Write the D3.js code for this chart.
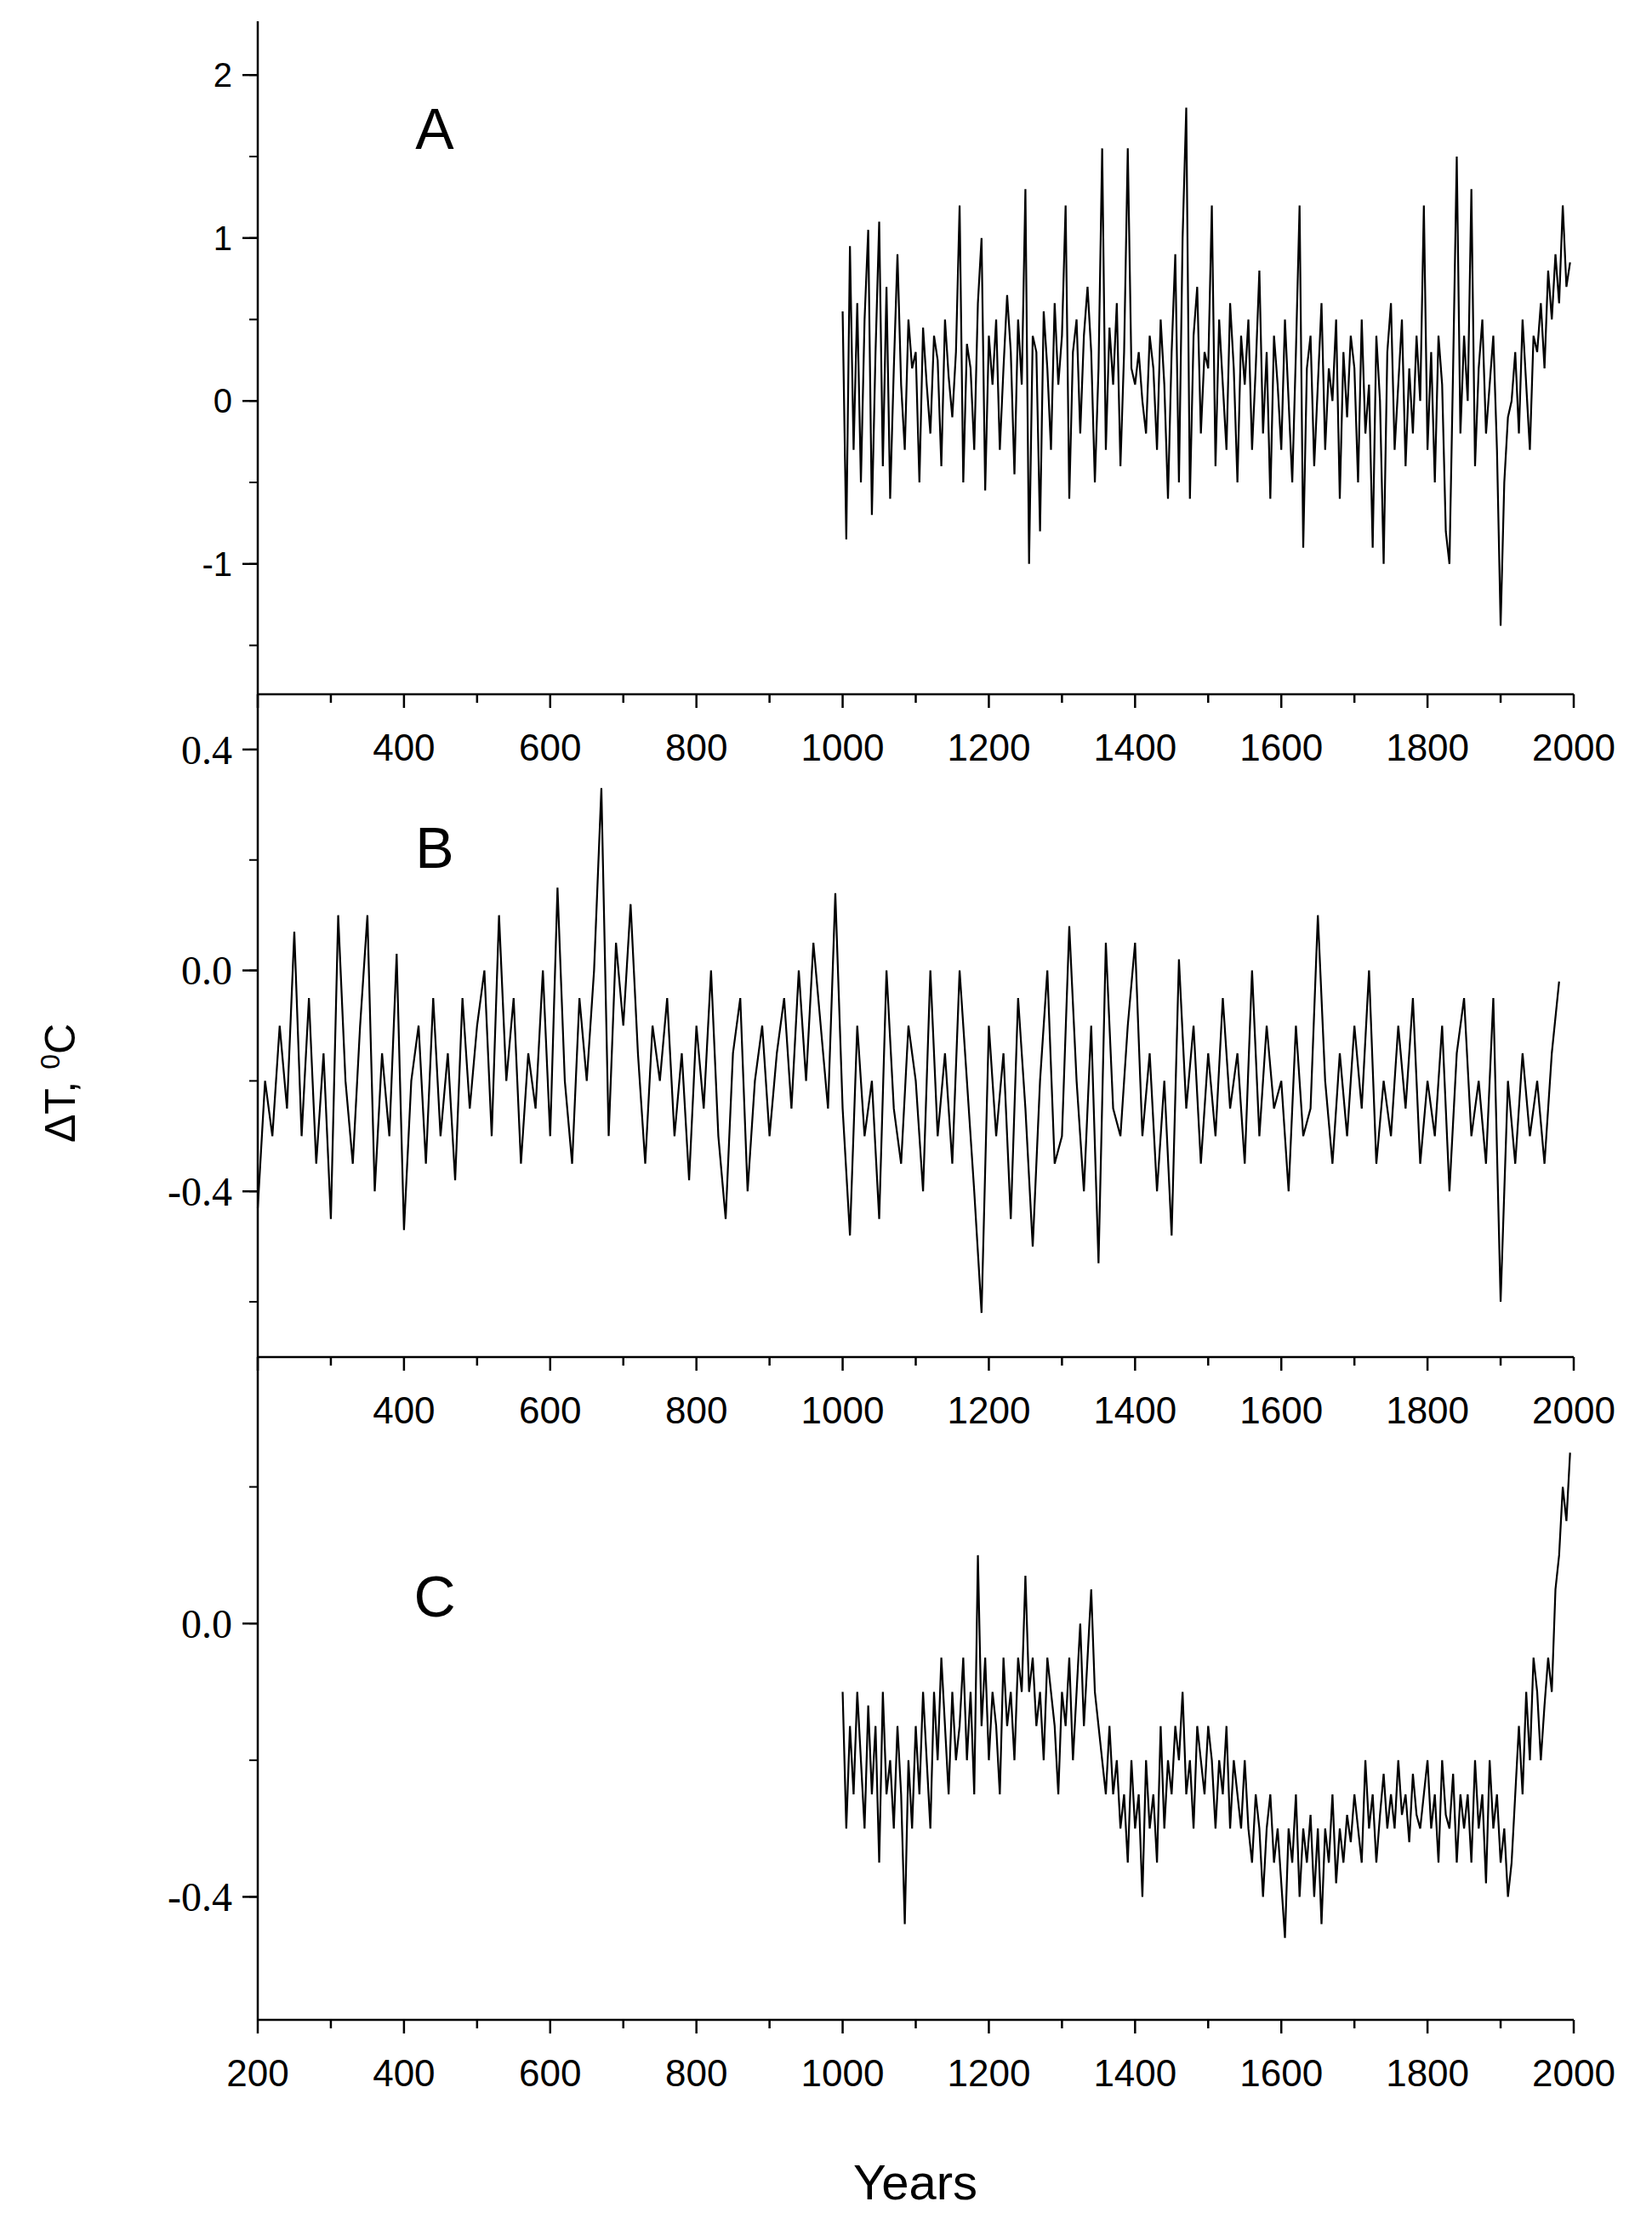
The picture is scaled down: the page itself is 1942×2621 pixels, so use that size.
<!DOCTYPE html>
<html><head><meta charset="utf-8">
<script src="https://cdn.jsdelivr.net/npm/d3@7"></script>
<style>body{margin:0;background:#fff}</style></head>
<body><svg id="c" width="1942" height="2621"></svg>
<script>
const yearsA = d3.range(1000, 2000, 5);
const valuesA = [0.55,-0.85,0.95,-0.3,0.6,-0.5,0.5,1.05,-0.7,0.3,
1.1,-0.4,0.7,-0.6,0.2,0.9,0.1,-0.3,0.5,0.2,
0.3,-0.5,0.45,0.1,-0.2,0.4,0.25,-0.4,0.5,0.15,
-0.1,0.3,1.2,-0.5,0.35,0.2,-0.3,0.6,1.0,-0.55,
0.4,0.1,0.5,-0.3,0.2,0.65,0.3,-0.45,0.5,0.1,
1.3,-1.0,0.4,0.3,-0.8,0.55,0.2,-0.3,0.6,0.1,
0.4,1.2,-0.6,0.3,0.5,-0.2,0.4,0.7,0.3,-0.5,
0.2,1.55,-0.3,0.45,0.1,0.6,-0.4,0.3,1.55,0.2,
0.1,0.3,0.0,-0.2,0.4,0.2,-0.3,0.5,0.1,-0.6,
0.3,0.9,-0.5,1.0,1.8,-0.6,0.4,0.7,-0.2,0.3,
0.2,1.2,-0.4,0.5,0.1,-0.3,0.6,0.2,-0.5,0.4,
0.1,0.5,-0.3,0.2,0.8,-0.2,0.3,-0.6,0.4,0.1,
-0.3,0.5,0.0,-0.5,0.3,1.2,-0.9,0.2,0.4,-0.4,
0.1,0.6,-0.3,0.2,0.0,0.5,-0.6,0.3,-0.1,0.4,
0.2,-0.5,0.5,-0.2,0.1,-0.9,0.4,0.0,-1.0,0.3,
0.6,-0.3,0.1,0.5,-0.4,0.2,-0.2,0.4,0.0,1.2,
-0.3,0.3,-0.5,0.4,0.1,-0.8,-1.0,0.2,1.5,-0.2,
0.4,0.0,1.3,-0.4,0.2,0.5,-0.2,0.1,0.4,-0.3,
-1.38,-0.5,-0.1,0.0,0.3,-0.2,0.5,0.1,-0.3,0.4,
0.3,0.6,0.2,0.8,0.5,0.9,0.6,1.2,0.7,0.85];
const yearsB = d3.range(200, 1990, 10);
const valuesB = [-0.43,-0.2,-0.3,-0.1,-0.25,0.07,-0.3,-0.05,-0.35,-0.15,
-0.45,0.1,-0.2,-0.35,-0.1,0.1,-0.4,-0.15,-0.3,0.03,
-0.47,-0.2,-0.1,-0.35,-0.05,-0.3,-0.15,-0.38,-0.05,-0.25,
-0.1,0.0,-0.3,0.1,-0.2,-0.05,-0.35,-0.15,-0.25,0.0,
-0.3,0.15,-0.2,-0.35,-0.05,-0.2,0.0,0.33,-0.3,0.05,
-0.1,0.12,-0.15,-0.35,-0.1,-0.2,-0.05,-0.3,-0.15,-0.38,
-0.1,-0.25,0.0,-0.3,-0.45,-0.15,-0.05,-0.4,-0.2,-0.1,
-0.3,-0.15,-0.05,-0.25,0.0,-0.2,0.05,-0.1,-0.25,0.14,
-0.25,-0.48,-0.1,-0.3,-0.2,-0.45,0.0,-0.25,-0.35,-0.1,
-0.2,-0.4,0.0,-0.3,-0.15,-0.35,0.0,-0.2,-0.4,-0.62,
-0.1,-0.3,-0.15,-0.45,-0.05,-0.25,-0.5,-0.2,0.0,-0.35,
-0.3,0.08,-0.2,-0.4,-0.1,-0.53,0.05,-0.25,-0.3,-0.1,
0.05,-0.3,-0.15,-0.4,-0.2,-0.48,0.02,-0.25,-0.1,-0.35,
-0.15,-0.3,-0.05,-0.25,-0.15,-0.35,0.0,-0.3,-0.1,-0.25,
-0.2,-0.4,-0.1,-0.3,-0.25,0.1,-0.2,-0.35,-0.15,-0.3,
-0.1,-0.25,0.0,-0.35,-0.2,-0.3,-0.1,-0.25,-0.05,-0.35,
-0.2,-0.3,-0.1,-0.4,-0.15,-0.05,-0.3,-0.2,-0.35,-0.05,
-0.6,-0.2,-0.35,-0.15,-0.3,-0.2,-0.35,-0.15,-0.02];
const yearsC = d3.range(1000, 2000, 5);
const valuesC = [-0.1,-0.3,-0.15,-0.25,-0.1,-0.2,-0.3,-0.12,-0.25,-0.15,
-0.35,-0.1,-0.25,-0.2,-0.3,-0.15,-0.25,-0.44,-0.2,-0.3,
-0.15,-0.25,-0.1,-0.2,-0.3,-0.1,-0.2,-0.05,-0.15,-0.25,
-0.1,-0.2,-0.15,-0.05,-0.2,-0.1,-0.25,0.1,-0.15,-0.05,
-0.2,-0.1,-0.15,-0.25,-0.05,-0.15,-0.1,-0.2,-0.05,-0.1,
0.07,-0.1,-0.05,-0.15,-0.1,-0.2,-0.05,-0.1,-0.15,-0.25,
-0.1,-0.15,-0.05,-0.2,-0.1,0.0,-0.15,-0.05,0.05,-0.1,
-0.15,-0.2,-0.25,-0.15,-0.25,-0.2,-0.3,-0.25,-0.35,-0.2,
-0.3,-0.25,-0.4,-0.2,-0.3,-0.25,-0.35,-0.15,-0.3,-0.2,
-0.25,-0.15,-0.2,-0.1,-0.25,-0.2,-0.3,-0.15,-0.2,-0.25,
-0.15,-0.2,-0.3,-0.2,-0.25,-0.15,-0.3,-0.2,-0.25,-0.3,
-0.2,-0.3,-0.35,-0.25,-0.3,-0.4,-0.3,-0.25,-0.35,-0.3,
-0.38,-0.46,-0.3,-0.35,-0.25,-0.4,-0.3,-0.35,-0.28,-0.4,
-0.3,-0.44,-0.3,-0.35,-0.25,-0.38,-0.3,-0.35,-0.28,-0.32,
-0.25,-0.3,-0.35,-0.2,-0.3,-0.25,-0.35,-0.28,-0.22,-0.3,
-0.25,-0.3,-0.2,-0.28,-0.25,-0.32,-0.22,-0.28,-0.3,-0.25,
-0.2,-0.3,-0.25,-0.35,-0.2,-0.28,-0.3,-0.22,-0.35,-0.25,
-0.3,-0.25,-0.35,-0.2,-0.3,-0.25,-0.38,-0.2,-0.3,-0.25,
-0.35,-0.3,-0.4,-0.35,-0.25,-0.15,-0.25,-0.1,-0.2,-0.05,
-0.1,-0.2,-0.12,-0.05,-0.1,0.05,0.1,0.2,0.15,0.25];
const xTicksMajor = [200,400,600,800,1000,1200,1400,1600,1800,2000];
const yTicksA = [-1,0,1,2], yTicksB = [-0.4,0.0,0.4], yTicksC = [-0.4,0.0];

const svg = d3.select("#c");
const L = 303, R = 1850;
const x = d3.scaleLinear().domain([200,2000]).range([L,R]);
const panels = [
 {top:25,bot:816,dom:[-1.8,2.33],years:yearsA,vals:valuesA,major:yTicksA,minor:d3.range(-1.5,2.01,0.5),fmt:d3.format("d"),font:"Liberation Sans, Arial, sans-serif",fs:40,label:"A",ly:175,xlab:[400,600,800,1000,1200,1400,1600,1800,2000]},
 {top:816,bot:1595,dom:[-0.70,0.5],years:yearsB,vals:valuesB,major:yTicksB,minor:[-0.6,-0.4,-0.2,0,0.2,0.4],fmt:d3.format(".1f"),font:"Liberation Serif, Times New Roman, serif",fs:48,label:"B",ly:1020,xlab:[400,600,800,1000,1200,1400,1600,1800,2000]},
 {top:1595,bot:2374,dom:[-0.58,0.39],years:yearsC,vals:valuesC,major:yTicksC,minor:[-0.4,-0.2,0,0.2],fmt:d3.format(".1f"),font:"Liberation Serif, Times New Roman, serif",fs:48,label:"C",ly:1900,xlab:xTicksMajor}
];
panels.forEach(p=>{
  const y = d3.scaleLinear().domain(p.dom).range([p.bot,p.top]);
  const g = svg.append("g");
  g.append("line").attr("x1",L).attr("x2",L).attr("y1",p.top).attr("y2",p.bot).attr("stroke","#000").attr("stroke-width",2.5);
  g.append("line").attr("x1",L).attr("x2",R).attr("y1",p.bot).attr("y2",p.bot).attr("stroke","#000").attr("stroke-width",2.5);
  p.minor.forEach(v=>g.append("line").attr("x1",L-10).attr("x2",L).attr("y1",y(v)).attr("y2",y(v)).attr("stroke","#000").attr("stroke-width",2));
  p.major.forEach(v=>{
    g.append("line").attr("x1",L-18).attr("x2",L).attr("y1",y(v)).attr("y2",y(v)).attr("stroke","#000").attr("stroke-width",2.5);
    g.append("text").attr("x",L-30).attr("y",y(v)).attr("dy","0.35em").attr("text-anchor","end")
     .attr("font-family",p.font).attr("font-size",p.fs).text(p.fmt(v).replace("\u2212","-"));
  });
  d3.range(200,2001,100).forEach(v=>{
    const maj = v%200===0;
    g.append("line").attr("x1",x(v)).attr("x2",x(v)).attr("y1",p.bot).attr("y2",p.bot+(maj?16:10)).attr("stroke","#000").attr("stroke-width",2.5);
  });
  p.xlab.forEach(v=>g.append("text").attr("x",x(v)).attr("y",p.bot+78).attr("text-anchor","middle")
     .attr("font-family","Liberation Sans, Arial, sans-serif").attr("font-size",44).text(v));
  g.append("path").datum(p.years.map((yr,i)=>[yr,p.vals[i]]))
   .attr("fill","none").attr("stroke","#000").attr("stroke-width",2.2)
   .attr("d",d3.line().x(d=>x(d[0])).y(d=>y(d[1])));
  g.append("text").attr("x",511).attr("y",p.ly).attr("text-anchor","middle")
   .attr("font-family","Liberation Sans, Arial, sans-serif").attr("font-size",68).text(p.label);
});
svg.append("text").attr("x",1076).attr("y",2585).attr("text-anchor","middle")
 .attr("font-family","Liberation Sans, Arial, sans-serif").attr("font-size",58).text("Years");
svg.append("text").attr("transform","translate(88,1273) rotate(-90)").attr("text-anchor","middle")
 .attr("font-family","Liberation Sans, Arial, sans-serif").attr("font-size",50)
 .html('ΔT, <tspan dy="-18" font-size="32">0</tspan><tspan dy="18">C</tspan>');
</script></body></html>
